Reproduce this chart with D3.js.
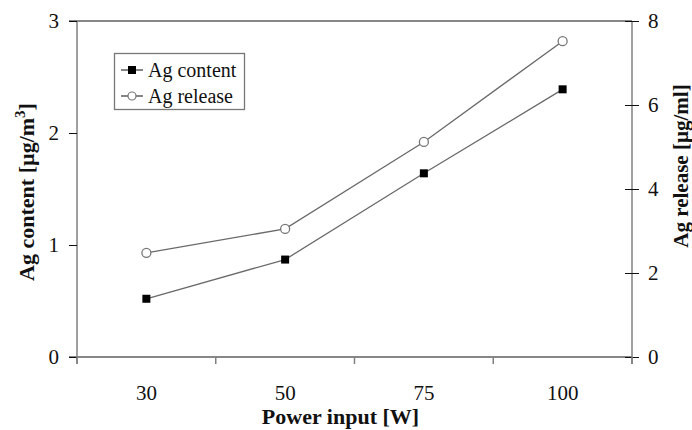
<!DOCTYPE html>
<html>
<head>
<meta charset="utf-8">
<script src="https://cdn.jsdelivr.net/npm/d3@7"></script>
<style>
  body { margin: 0; background: #fff; }
  svg { display: block; font-family: "Liberation Serif", "Times New Roman", serif; }
</style>
</head>
<body>
<svg id="chart" width="692" height="430"></svg>
<script>
// data
var powers = ["30", "50", "75", "100"];
var agContent = [0.52, 0.87, 1.64, 2.39];   // µg/m3, left axis
var agRelease = [2.48, 3.05, 5.12, 7.52];   // µg/ml, right axis
var leftTicks = [0, 1, 2, 3];
var rightTicks = [0, 2, 4, 6, 8];

var svg = d3.select("#chart");
var plotLeft = 77, plotRight = 632, plotTop = 21, plotBottom = 357;

var x = d3.scaleBand().domain(powers).range([plotLeft, plotRight]).padding(0);
var yL = d3.scaleLinear().domain([0, 3]).range([plotBottom, plotTop]);
var yR = d3.scaleLinear().domain([0, 8]).range([plotBottom, plotTop]);

// frame: top + bottom lines black, side axes grey
svg.append("line").attr("x1", plotLeft - 8).attr("x2", plotRight).attr("y1", plotTop).attr("y2", plotTop)
  .attr("stroke", "#111").attr("stroke-width", 1.2);
svg.append("line").attr("x1", plotLeft - 8).attr("x2", plotRight).attr("y1", plotBottom).attr("y2", plotBottom)
  .attr("stroke", "#111").attr("stroke-width", 1.2);
svg.append("line").attr("x1", plotLeft).attr("x2", plotLeft).attr("y1", plotTop).attr("y2", plotBottom + 7)
  .attr("stroke", "#808080").attr("stroke-width", 1.5);
svg.append("line").attr("x1", plotRight).attr("x2", plotRight).attr("y1", plotTop).attr("y2", plotBottom + 7)
  .attr("stroke", "#808080").attr("stroke-width", 1.5);

// left axis
var gL = svg.append("g").attr("transform", "translate(" + plotLeft + ",0)")
  .call(d3.axisLeft(yL).tickValues(leftTicks).tickSize(8).tickPadding(10).tickFormat(d3.format("d")));
gL.select(".domain").remove();
gL.selectAll("line").attr("stroke", "#111");
gL.selectAll("text").attr("font-size", 21).attr("font-family", "Liberation Serif").attr("fill", "#111");

// right axis, ticks cross the axis line
var gR = svg.append("g").attr("transform", "translate(" + plotRight + ",0)")
  .call(d3.axisRight(yR).tickValues(rightTicks).tickSize(7).tickPadding(9).tickFormat(d3.format("d")));
gR.select(".domain").remove();
gR.selectAll(".tick").append("line").attr("x1", -7).attr("x2", 0);
gR.selectAll("line").attr("stroke", "#111");
gR.selectAll("text").attr("font-size", 21).attr("font-family", "Liberation Serif").attr("fill", "#111");

// x ticks at category boundaries
var bounds = d3.range(powers.length + 1).map(function(i) { return plotLeft + i * x.step(); });
svg.append("g").selectAll("line")
  .data(bounds)
  .enter().append("line")
  .attr("x1", d => d).attr("x2", d => d)
  .attr("y1", plotBottom).attr("y2", plotBottom + 7)
  .attr("stroke", "#808080").attr("stroke-width", 1.5);

svg.append("g").selectAll("text")
  .data(powers)
  .enter().append("text")
  .attr("x", d => x(d) + x.bandwidth() / 2)
  .attr("y", 400)
  .attr("text-anchor", "middle")
  .attr("font-size", 21)
  .attr("fill", "#111")
  .text(d => d);

// axis titles
svg.append("text")
  .attr("x", (plotLeft + plotRight) / 2 - 14).attr("y", 424)
  .attr("text-anchor", "middle")
  .attr("font-size", 22).attr("font-weight", "bold").attr("fill", "#111")
  .text("Power input [W]");

var tl = svg.append("text")
  .attr("transform", "translate(34,192) rotate(-90)")
  .attr("text-anchor", "middle")
  .attr("font-size", 22).attr("font-weight", "bold").attr("fill", "#111");
tl.append("tspan").text("Ag content [µg/m");
tl.append("tspan").attr("dy", -9).attr("font-size", 15).text("3");
tl.append("tspan").attr("dy", 9).text("]");

svg.append("text")
  .attr("transform", "translate(688,166) rotate(-90)")
  .attr("text-anchor", "middle")
  .attr("font-size", 21).attr("font-weight", "bold").attr("fill", "#111")
  .text("Ag release [µg/ml]");

// lines
var cx = d => x(d) + x.bandwidth() / 2;
var contentPts = powers.map((p, i) => [cx(p), yL(agContent[i])]);
var releasePts = powers.map((p, i) => [cx(p), yR(agRelease[i])]);
var line = d3.line();

svg.append("path").attr("d", line(releasePts)).attr("fill", "none")
  .attr("stroke", "#6a6a6a").attr("stroke-width", 1.3);
svg.append("path").attr("d", line(contentPts)).attr("fill", "none")
  .attr("stroke", "#6a6a6a").attr("stroke-width", 1.3);

svg.append("g").selectAll("rect")
  .data(contentPts)
  .enter().append("rect")
  .attr("x", d => d[0] - 4).attr("y", d => d[1] - 4)
  .attr("width", 8).attr("height", 8)
  .attr("fill", "#000");

svg.append("g").selectAll("circle")
  .data(releasePts)
  .enter().append("circle")
  .attr("cx", d => d[0]).attr("cy", d => d[1]).attr("r", 4.5)
  .attr("fill", "#fff").attr("stroke", "#777").attr("stroke-width", 1.3);

// legend
var lg = svg.append("g");
lg.append("rect").attr("x", 114.5).attr("y", 53.5).attr("width", 130).attr("height", 56)
  .attr("fill", "#fff").attr("stroke", "#777").attr("stroke-width", 1.3);
var items = [{name: "Ag content", y: 70}, {name: "Ag release", y: 96}];
items.forEach(function(it, i) {
  lg.append("line").attr("x1", 121).attr("x2", 143).attr("y1", it.y).attr("y2", it.y)
    .attr("stroke", "#333").attr("stroke-width", 1.2);
  if (i == 0) {
    lg.append("rect").attr("x", 128).attr("y", it.y - 4).attr("width", 8).attr("height", 8).attr("fill", "#000");
  } else {
    lg.append("circle").attr("cx", 132).attr("cy", it.y).attr("r", 4)
      .attr("fill", "#fff").attr("stroke", "#777").attr("stroke-width", 1.2);
  }
  lg.append("text").attr("x", 148).attr("y", it.y + 7)
    .attr("font-size", 20).attr("fill", "#111").text(it.name);
});
</script>
</body>
</html>
